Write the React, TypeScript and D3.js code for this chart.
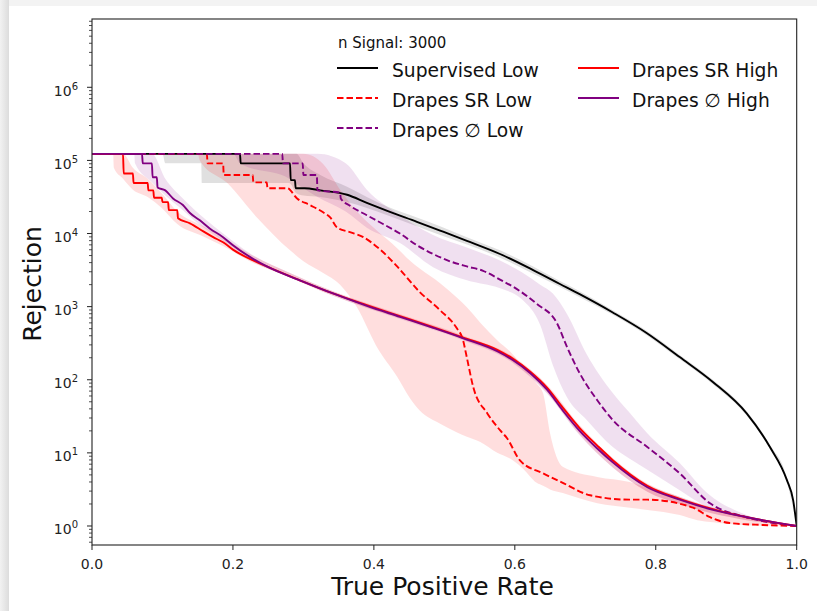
import React from "react";
import * as d3 from "d3";

// ---- data: [true positive rate, log10(rejection)] ----
const supervisedLow: [number, number][] = [
  [0, 5.09], [0.21, 5.09], [0.211, 4.96], [0.281, 4.96], [0.282, 4.73], [0.288, 4.73],
  [0.289, 4.62], [0.302, 4.62], [0.324, 4.59], [0.362, 4.53], [0.39, 4.42], [0.419, 4.31],
  [0.461, 4.16], [0.494, 4.04], [0.532, 3.9], [0.579, 3.72], [0.626, 3.5], [0.664, 3.31],
  [0.692, 3.17], [0.739, 2.92], [0.787, 2.64], [0.834, 2.31], [0.881, 1.97], [0.929, 1.54],
  [0.962, 1.08], [0.986, 0.63], [0.995, 0.35], [1.0, 0],
];
const drapesSRLow: [number, number][] = [
  [0, 5.09], [0.163, 5.09], [0.164, 4.96], [0.186, 4.96], [0.187, 4.8], [0.228, 4.8],
  [0.229, 4.7], [0.248, 4.7], [0.249, 4.62], [0.277, 4.62], [0.291, 4.48], [0.309, 4.39],
  [0.328, 4.29], [0.338, 4.22], [0.348, 4.08], [0.366, 4.02], [0.385, 3.95], [0.409, 3.78],
  [0.433, 3.55], [0.465, 3.2], [0.494, 2.95], [0.518, 2.7], [0.526, 2.56], [0.532, 2.3],
  [0.541, 1.9], [0.561, 1.54], [0.579, 1.31], [0.589, 1.2], [0.607, 0.9], [0.64, 0.72],
  [0.668, 0.59], [0.707, 0.42], [0.763, 0.36], [0.788, 0.36], [0.853, 0.25], [0.877, 0.12],
  [0.905, 0.04], [0.952, 0.014], [1.0, 0],
];
const drapesEmptyLow: [number, number][] = [
  [0, 5.09], [0.27, 5.09], [0.271, 4.96], [0.299, 4.96], [0.3, 4.8], [0.319, 4.8],
  [0.32, 4.59], [0.352, 4.56], [0.353, 4.48], [0.366, 4.38], [0.39, 4.25], [0.413, 4.13],
  [0.437, 4.0], [0.461, 3.84], [0.484, 3.72], [0.508, 3.62], [0.532, 3.55], [0.555, 3.49],
  [0.579, 3.37], [0.603, 3.24], [0.631, 3.04], [0.66, 2.77], [0.674, 2.45], [0.692, 2.09],
  [0.717, 1.72], [0.739, 1.45], [0.788, 1.08], [0.834, 0.72], [0.877, 0.31], [0.929, 0.12], [1.0, 0],
];
const drapesSRHigh: [number, number][] = [
  [0, 5.09], [0.044, 5.09], [0.045, 4.82], [0.058, 4.82], [0.059, 4.69], [0.079, 4.69],
  [0.08, 4.59], [0.087, 4.59], [0.088, 4.49], [0.099, 4.49], [0.1, 4.43], [0.108, 4.43],
  [0.109, 4.32], [0.121, 4.32], [0.122, 4.21], [0.139, 4.14], [0.158, 4.03], [0.172, 3.95],
  [0.186, 3.88], [0.2, 3.78], [0.248, 3.55], [0.295, 3.36], [0.342, 3.18], [0.39, 3.02],
  [0.437, 2.87], [0.484, 2.72], [0.526, 2.58], [0.575, 2.41], [0.597, 2.29], [0.622, 2.11],
  [0.646, 1.89], [0.668, 1.62], [0.692, 1.34], [0.717, 1.1], [0.739, 0.9], [0.788, 0.55],
  [0.834, 0.37], [0.881, 0.23], [0.929, 0.12], [1.0, 0],
];
const drapesEmptyHigh: [number, number][] = [
  [0, 5.09], [0.071, 5.09], [0.072, 4.96], [0.085, 4.96], [0.086, 4.77], [0.092, 4.77],
  [0.093, 4.63], [0.104, 4.59], [0.115, 4.48], [0.129, 4.39], [0.139, 4.28], [0.153, 4.18],
  [0.167, 4.07], [0.186, 3.95], [0.2, 3.84], [0.224, 3.68], [0.248, 3.55], [0.295, 3.36],
  [0.342, 3.18], [0.39, 3.01], [0.437, 2.86], [0.484, 2.71], [0.526, 2.57], [0.575, 2.39],
  [0.597, 2.27], [0.622, 2.09], [0.646, 1.86], [0.668, 1.58], [0.692, 1.3], [0.717, 1.06],
  [0.739, 0.87], [0.788, 0.53], [0.834, 0.36], [0.881, 0.22], [0.929, 0.12], [1.0, 0],
];

// ---- uncertainty bands: [tpr, low log10, high log10] ----
const supervisedLowBand: [number, number, number][] = [
  [0, 5.09, 5.09], [0.1, 5.09, 5.09], [0.104, 4.96, 5.09], [0.155, 4.96, 5.09],
  [0.156, 4.69, 5.09], [0.28, 4.69, 5.09], [0.29, 4.55, 5.09], [0.3, 4.52, 4.96],
  [0.324, 4.5, 4.8], [0.362, 4.43, 4.64], [0.39, 4.35, 4.5], [0.419, 4.25, 4.37],
  [0.461, 4.1, 4.22], [0.494, 3.98, 4.1], [0.532, 3.85, 3.95], [0.579, 3.67, 3.77],
  [0.626, 3.45, 3.55], [0.664, 3.27, 3.35], [0.692, 3.13, 3.21], [0.739, 2.89, 2.95],
  [0.787, 2.61, 2.67], [0.834, 2.28, 2.34], [0.881, 1.94, 2.0], [0.929, 1.51, 1.57],
  [0.962, 1.05, 1.11], [0.986, 0.6, 0.66], [1.0, 0, 0],
];
const drapesSRLowBand: [number, number, number][] = [
  [0, 5.09, 5.09], [0.15, 5.09, 5.09], [0.153, 5.0, 5.09], [0.192, 4.69, 5.09],
  [0.234, 4.22, 5.09], [0.281, 3.77, 5.09], [0.3, 3.62, 5.09], [0.328, 3.46, 4.95],
  [0.352, 3.3, 4.6], [0.376, 2.99, 4.3], [0.403, 2.47, 4.05], [0.433, 2.04, 3.8],
  [0.451, 1.75, 3.63], [0.465, 1.58, 3.52], [0.494, 1.4, 3.32], [0.518, 1.28, 3.12],
  [0.532, 1.22, 2.99], [0.551, 1.15, 2.78], [0.575, 1.0, 2.54], [0.597, 0.9, 2.35],
  [0.612, 0.78, 2.17], [0.631, 0.59, 1.95], [0.64, 0.55, 1.82], [0.65, 0.5, 1.27],
  [0.668, 0.45, 0.81], [0.717, 0.31, 0.67], [0.763, 0.25, 0.6], [0.788, 0.22, 0.52],
  [0.834, 0.15, 0.36], [0.859, 0.08, 0.3], [0.881, 0.05, 0.22], [0.929, 0.01, 0.12],
  [1.0, 0, 0],
];
const drapesEmptyLowBand: [number, number, number][] = [
  [0, 5.09, 5.09], [0.2, 5.09, 5.09], [0.21, 4.96, 5.09], [0.28, 4.75, 5.09],
  [0.3, 4.62, 5.09], [0.32, 4.5, 5.09], [0.36, 4.3, 4.96], [0.39, 4.08, 4.6],
  [0.437, 3.87, 4.25], [0.484, 3.54, 3.98], [0.532, 3.36, 3.81], [0.579, 3.25, 3.63],
  [0.61, 3.1, 3.47], [0.636, 2.75, 3.3], [0.654, 2.2, 3.18], [0.674, 1.76, 2.9],
  [0.702, 1.45, 2.35], [0.739, 1.08, 1.82], [0.763, 0.92, 1.55], [0.788, 0.77, 1.27],
  [0.834, 0.49, 0.86], [0.873, 0.26, 0.45], [0.929, 0.1, 0.15], [1.0, 0, 0],
];
const drapesSRHighBand: [number, number, number][] = [
  [0, 5.09, 5.09], [0.03, 5.09, 5.09], [0.031, 4.9, 5.09], [0.044, 4.75, 5.09],
  [0.058, 4.6, 4.9], [0.079, 4.5, 4.75], [0.099, 4.35, 4.55], [0.121, 4.13, 4.3],
  [0.158, 3.96, 4.1], [0.186, 3.83, 3.95], [0.224, 3.62, 3.72], [0.281, 3.4, 3.46],
  [0.342, 3.15, 3.21], [0.437, 2.84, 2.9], [0.526, 2.55, 2.61], [0.597, 2.24, 2.32],
  [0.646, 1.82, 1.93], [0.692, 1.25, 1.38], [0.739, 0.8, 0.93], [0.788, 0.47, 0.58],
  [0.834, 0.3, 0.4], [0.881, 0.17, 0.25], [0.929, 0.08, 0.14], [1.0, 0, 0],
];
const drapesEmptyHighBand: [number, number, number][] = [
  [0, 5.09, 5.09], [0.06, 5.09, 5.09], [0.061, 4.96, 5.09], [0.085, 4.7, 5.09],
  [0.104, 4.52, 4.75], [0.129, 4.32, 4.48], [0.153, 4.12, 4.26], [0.186, 3.9, 4.0],
  [0.224, 3.64, 3.73], [0.281, 3.4, 3.46], [0.342, 3.15, 3.21], [0.437, 2.83, 2.89],
  [0.526, 2.54, 2.6], [0.597, 2.23, 2.31], [0.646, 1.81, 1.91], [0.692, 1.24, 1.36],
  [0.739, 0.8, 0.92], [0.788, 0.47, 0.57], [0.834, 0.3, 0.4], [0.881, 0.17, 0.25],
  [0.929, 0.08, 0.14], [1.0, 0, 0],
];

const xTicks = [0, 0.2, 0.4, 0.6, 0.8, 1.0];
const yMajorExp = [0, 1, 2, 3, 4, 5, 6];
const legendTitle = "n Signal: 3000";

const FONT = "DejaVu Sans, Verdana, sans-serif";
const W = 817;
const H = 611;
const L = 92, R = 796.7, T = 19, B = 545;

export default function App() {
  const x = d3.scaleLinear().domain([0, 1]).range([L, R]);
  const y = d3.scaleLog().domain([Math.pow(10, -0.26), Math.pow(10, 6.934)]).range([B, T]);
  const line = d3
    .line<[number, number]>()
    .x((d) => x(d[0]))
    .y((d) => y(Math.pow(10, d[1])))
    .curve(d3.curveMonotoneX);
  const area = d3
    .area<[number, number, number]>()
    .x((d) => x(d[0]))
    .y0((d) => y(Math.pow(10, d[1])))
    .y1((d) => y(Math.pow(10, d[2])))
    .curve(d3.curveMonotoneX);

  const minor: number[] = [];
  for (let k = -1; k <= 6; k++) {
    for (let m = 2; m <= 9; m++) {
      const v = m * Math.pow(10, k);
      const py = y(v);
      if (py <= B && py >= T) minor.push(v);
    }
  }

  const series = [
    { name: "Supervised Low", data: supervisedLow, color: "#000000", dash: "" },
    { name: "Drapes SR Low", data: drapesSRLow, color: "#ff0000", dash: "6.5,3" },
    { name: "Drapes \u2205 Low", data: drapesEmptyLow, color: "#800080", dash: "6.5,3" },
    { name: "Drapes SR High", data: drapesSRHigh, color: "#ff0000", dash: "" },
    { name: "Drapes \u2205 High", data: drapesEmptyHigh, color: "#800080", dash: "" },
  ];
  const bands = [
    { data: supervisedLowBand, color: "#000000", op: 0.12 },
    { data: drapesSRLowBand, color: "#ff0000", op: 0.13 },
    { data: drapesEmptyLowBand, color: "#800080", op: 0.12 },
    { data: drapesSRHighBand, color: "#ff0000", op: 0.13 },
    { data: drapesEmptyHighBand, color: "#800080", op: 0.12 },
  ];

  const legendPos = [
    { hx: 337, tx: 392, y: 68 },
    { hx: 337, tx: 392, y: 98 },
    { hx: 337, tx: 392, y: 128 },
    { hx: 578, tx: 632, y: 68 },
    { hx: 578, tx: 632, y: 98 },
  ];

  return (
    <svg
      width={W}
      height={H}
      style={{ position: "absolute", left: 0, top: 0, background: "#fff" }}
      fontFamily={FONT}
    >
      <defs>
        <linearGradient id="lshadow" x1="0" x2="1" y1="0" y2="0">
          <stop offset="0" stopColor="#f2f2f2" />
          <stop offset="1" stopColor="#dcdcdc" />
        </linearGradient>
        <clipPath id="plotclip">
          <rect x={L} y={T} width={R - L} height={B - T} />
        </clipPath>
      </defs>
      <rect x={0} y={0} width={W} height={H} fill="#ffffff" />
      <rect x={0} y={0} width={W} height={6} fill="#f3f3f3" />
      <rect x={0} y={0} width={9} height={H} fill="url(#lshadow)" />

      <g clipPath="url(#plotclip)">
        {bands.map((b, i) => (
          <path key={"b" + i} d={area(b.data) || ""} fill={b.color} fillOpacity={b.op} stroke="none" />
        ))}
        {series.map((s, i) => (
          <path
            key={"s" + i}
            d={line(s.data) || ""}
            fill="none"
            stroke={s.color}
            strokeWidth={1.9}
            strokeDasharray={s.dash || undefined}
          />
        ))}
      </g>

      {/* frame */}
      <rect x={L} y={T} width={R - L} height={B - T} fill="none" stroke="#222" strokeWidth={1.1} />

      {/* x ticks */}
      {xTicks.map((t) => (
        <g key={"xt" + t}>
          <line x1={x(t)} x2={x(t)} y1={B} y2={B + 5} stroke="#222" strokeWidth={1} />
          <text x={x(t)} y={569} textAnchor="middle" fontSize={14} fill="#222">
            {t.toFixed(1)}
          </text>
        </g>
      ))}

      {/* y ticks */}
      {minor.map((v, i) => (
        <line key={"ym" + i} x1={L - 3} x2={L} y1={y(v)} y2={y(v)} stroke="#222" strokeWidth={0.8} />
      ))}
      {yMajorExp.map((k) => (
        <g key={"yt" + k}>
          <line x1={L - 5} x2={L} y1={y(Math.pow(10, k))} y2={y(Math.pow(10, k))} stroke="#222" strokeWidth={1} />
          <text x={78} y={y(Math.pow(10, k)) + 8.5} textAnchor="end" fontSize={14} fill="#222">
            10
            <tspan dy={-6} fontSize={10}>
              {k}
            </tspan>
          </text>
        </g>
      ))}

      {/* axis labels */}
      <text x={442.5} y={595} textAnchor="middle" fontSize={25} fill="#111">
        True Positive Rate
      </text>
      <text
        transform={`translate(41, 284) rotate(-90)`}
        textAnchor="middle"
        fontSize={25}
        fill="#111"
      >
        Rejection
      </text>

      {/* legend */}
      <text x={338} y={48} fontSize={15} fill="#111">
        {legendTitle}
      </text>
      {series.map((s, i) => {
        const p = legendPos[i];
        return (
          <g key={"lg" + i}>
            <line
              x1={p.hx}
              x2={p.hx + 41}
              y1={p.y}
              y2={p.y}
              stroke={s.color}
              strokeWidth={1.9}
              strokeDasharray={s.dash || undefined}
            />
            <text x={p.tx} y={p.y + 8.8} fontSize={18.7} fill="#111">
              {s.name}
            </text>
          </g>
        );
      })}
    </svg>
  );
}
